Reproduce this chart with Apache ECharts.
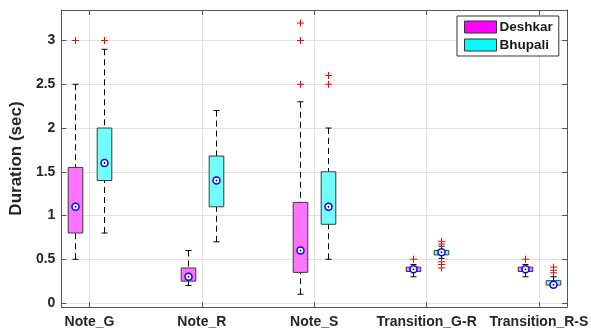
<!DOCTYPE html>
<html><head><meta charset="utf-8">
<script src="https://cdn.jsdelivr.net/npm/echarts@6/dist/echarts.min.js"></script>
<style>html,body{margin:0;padding:0;background:#fff}#c{width:591px;height:329px}</style>
</head><body><div id="c"></div>
<script>
const categories = ['Note_G', 'Note_R', 'Note_S', 'Transition_G-R', 'Transition_R-S'];
const yTicks = [0, 0.5, 1, 1.5, 2, 2.5, 3];
// [lower whisker, q1, median, q3, upper whisker]
const deshkarStats = [
  [0.5, 0.8, 1.1, 1.55, 2.5],
  [0.2, 0.25, 0.3, 0.4, 0.6],
  [0.1, 0.35, 0.6, 1.15, 2.3],
  [0.3, 0.36, 0.385, 0.41, 0.44],
  [0.3, 0.36, 0.385, 0.41, 0.44]
];
const bhupaliStats = [
  [0.8, 1.4, 1.6, 2.0, 2.9],
  [0.7, 1.1, 1.4, 1.68, 2.2],
  [0.5, 0.9, 1.1, 1.5, 2.0],
  [0.51, 0.55, 0.58, 0.6, 0.65],
  [0.19, 0.205, 0.21, 0.255, 0.3]
];
// [category index, value]
const deshkarOutliers = [[0, 3.0], [2, 2.5], [2, 3.0], [2, 3.2], [3, 0.5], [4, 0.5]];
const bhupaliOutliers = [[0, 3.0], [2, 2.5], [2, 2.6], [3, 0.705], [3, 0.675], [3, 0.47], [3, 0.44], [3, 0.40], [4, 0.41], [4, 0.375], [4, 0.345]];

const OFFSET = 0.125;
const FONT = 'Liberation Sans, Arial, sans-serif';
const AXIS_COLOR = '#555';

function boxRender(fill) {
  return function (params, api) {
    const x = api.value(0);
    const lo = api.coord([x, api.value(1)]);
    const q1 = api.coord([x, api.value(2)]);
    const md = api.coord([x, api.value(3)]);
    const q3 = api.coord([x, api.value(4)]);
    const hi = api.coord([x, api.value(5)]);
    const bw = api.size([0.13, 0])[0];
    const cw = 6;
    const cx = Math.round(lo[0]) + 0.5;
    const dash = {stroke: '#000', lineWidth: 1, lineDash: [6, 4]};
    const solid = {stroke: '#000', lineWidth: 1};
    return {
      type: 'group',
      children: [
        {type: 'line', shape: {x1: cx, y1: hi[1], x2: cx, y2: q3[1]}, style: dash},
        {type: 'line', shape: {x1: cx, y1: lo[1], x2: cx, y2: q1[1]}, style: dash},
        {type: 'line', shape: {x1: cx - cw / 2, y1: hi[1], x2: cx + cw / 2, y2: hi[1]}, style: solid},
        {type: 'line', shape: {x1: cx - cw / 2, y1: lo[1], x2: cx + cw / 2, y2: lo[1]}, style: solid},
        {type: 'rect', shape: {x: cx - bw / 2, y: q3[1], width: bw, height: q1[1] - q3[1]},
          style: {fill: fill, stroke: '#3a3a3a', lineWidth: 1}},
        {type: 'circle', shape: {cx: cx, cy: md[1], r: 3.5}, style: {fill: '#fff', stroke: '#0000ff', lineWidth: 1.5}},
        {type: 'circle', shape: {cx: cx, cy: md[1], r: 0.9}, style: {fill: '#000'}}
      ]
    };
  };
}

function plusRender(params, api) {
  const p = api.coord([api.value(0), api.value(1)]);
  const s = 3.5;
  const st = {stroke: '#ff0000', lineWidth: 1};
  const px = Math.round(p[0]) + 0.5;
  return {
    type: 'group',
    children: [
      {type: 'line', shape: {x1: px - s, y1: p[1], x2: px + s, y2: p[1]}, style: st},
      {type: 'line', shape: {x1: px, y1: p[1] - s, x2: px, y2: p[1] + s}, style: st}
    ]
  };
}

const deshkarData = deshkarStats.map((s, i) => [i + 1 - OFFSET].concat(s));
const bhupaliData = bhupaliStats.map((s, i) => [i + 1 + OFFSET].concat(s));
const deshkarOutData = deshkarOutliers.map(o => [o[0] + 1 - OFFSET, o[1]]);
const bhupaliOutData = bhupaliOutliers.map(o => [o[0] + 1 + OFFSET, o[1]]);

const xTickVals = categories.map((c, i) => i + 1);

const chart = echarts.init(document.getElementById('c'), null, {renderer: 'canvas'});
chart.setOption({
  animation: false,
  backgroundColor: '#fff',
  grid: {left: 55, right: 20, top: 10, bottom: 21, containLabel: false},
  legend: {
    show: true,
    left: 457, top: 16,
    orient: 'vertical',
    itemWidth: 32, itemHeight: 12, itemGap: 4,
    padding: [4, 6, 4, 7],
    borderColor: '#333', borderWidth: 1, backgroundColor: '#fff',
    selectedMode: false,
    textStyle: {fontFamily: FONT, fontWeight: 'bold', fontSize: 13.5, color: '#1a1a1a', padding: [0, 0, 0, -2]},
    data: [
      {name: 'Deshkar', icon: 'rect', itemStyle: {color: '#ff00ff', borderColor: '#333', borderWidth: 1}},
      {name: 'Bhupali', icon: 'rect', itemStyle: {color: '#00ffff', borderColor: '#333', borderWidth: 1}}
    ]
  },
  xAxis: [{
    type: 'value', min: 0.75, max: 5.25, position: 'bottom',
    axisLine: {show: true, onZero: false, lineStyle: {color: AXIS_COLOR, width: 1}},
    axisTick: {show: true, inside: true, length: 5, customValues: xTickVals, lineStyle: {color: AXIS_COLOR}},
    axisLabel: {
      show: true, customValues: xTickVals, hideOverlap: false, margin: 8,
      formatter: v => categories[Math.round(v) - 1] || '',
      fontFamily: FONT, fontWeight: 'bold', fontSize: 14, color: '#262626'
    },
    splitLine: {show: true, lineStyle: {color: '#e2e2e2', width: 1}}
  }, {
    type: 'value', min: 0.75, max: 5.25, position: 'top',
    axisLine: {show: true, onZero: false, lineStyle: {color: AXIS_COLOR, width: 1}},
    axisTick: {show: true, inside: true, length: 5, customValues: xTickVals, lineStyle: {color: AXIS_COLOR}},
    axisLabel: {show: false},
    splitLine: {show: false}
  }],
  yAxis: [{
    type: 'value', min: -0.0456, max: 3.349, position: 'left',
    name: 'Duration (sec)', nameLocation: 'middle', nameGap: 35,
    nameTextStyle: {fontFamily: FONT, fontWeight: 'bold', fontSize: 17, color: '#262626'},
    axisLine: {show: true, onZero: false, lineStyle: {color: AXIS_COLOR, width: 1}},
    axisTick: {show: true, inside: true, length: 5, customValues: yTicks, lineStyle: {color: AXIS_COLOR}},
    axisLabel: {
      show: true, customValues: yTicks, margin: 6,
      formatter: v => String(v),
      fontFamily: FONT, fontWeight: 'bold', fontSize: 14, color: '#262626'
    },
    splitLine: {show: true, lineStyle: {color: '#e2e2e2', width: 1}}
  }, {
    type: 'value', min: -0.0456, max: 3.349, position: 'right',
    axisLine: {show: true, onZero: false, lineStyle: {color: AXIS_COLOR, width: 1}},
    axisTick: {show: true, inside: true, length: 5, customValues: yTicks, lineStyle: {color: AXIS_COLOR}},
    axisLabel: {show: false},
    splitLine: {show: false}
  }],
  series: [
    {name: 'Deshkar', type: 'custom', xAxisIndex: 0, yAxisIndex: 0, clip: false,
      itemStyle: {color: '#ff00ff', borderColor: '#333'},
      encode: {x: 0, y: [1, 2, 3, 4, 5]}, renderItem: boxRender('#ff73ff'), data: deshkarData},
    {name: 'Bhupali', type: 'custom', xAxisIndex: 0, yAxisIndex: 0, clip: false,
      itemStyle: {color: '#00ffff', borderColor: '#333'},
      encode: {x: 0, y: [1, 2, 3, 4, 5]}, renderItem: boxRender('#73ffff'), data: bhupaliData},
    {name: 'Deshkar outliers', type: 'custom', xAxisIndex: 0, yAxisIndex: 0, clip: false,
      encode: {x: 0, y: 1}, renderItem: plusRender, data: deshkarOutData, z: 3},
    {name: 'Bhupali outliers', type: 'custom', xAxisIndex: 0, yAxisIndex: 0, clip: false,
      encode: {x: 0, y: 1}, renderItem: plusRender, data: bhupaliOutData, z: 3}
  ]
});
</script>
</body></html>
